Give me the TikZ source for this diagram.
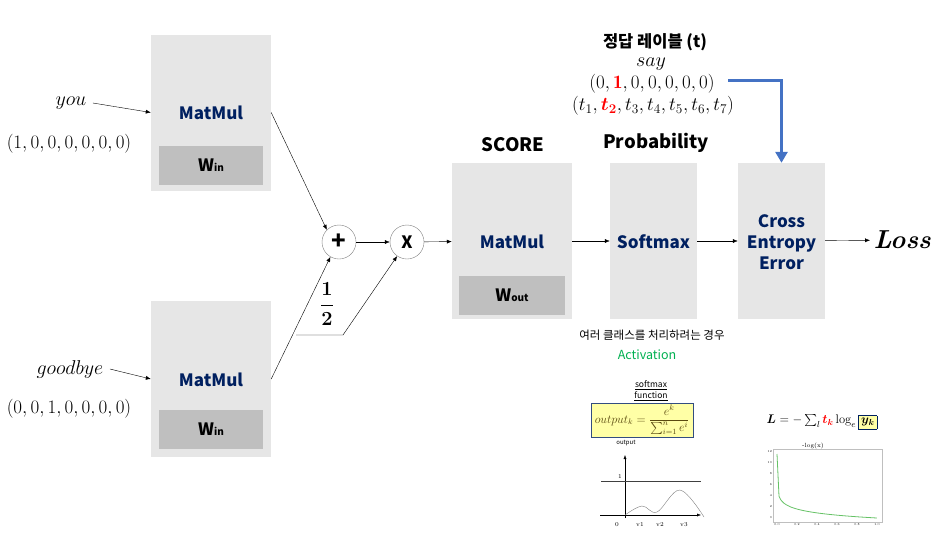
\RequirePackage{fix-cm}
\documentclass[tikz,border=0pt]{standalone}
\usepackage{fontspec}
\usepackage{amsmath,bm}
\usetikzlibrary{arrows.meta,positioning}
\newfontfamily\kr{Noto Sans CJK KR}
\definecolor{navy}{HTML}{002060}
\definecolor{boxgray}{HTML}{E6E6E6}
\definecolor{wgray}{HTML}{BFBFBF}
\definecolor{lblue}{HTML}{4472C4}
\definecolor{actgreen}{HTML}{00B050}
\definecolor{pale}{HTML}{FFFFA6}
\definecolor{formbrown}{HTML}{5A4A10}

\begin{document}
\begin{tikzpicture}[x=1pt,y=-1pt,
 block/.style={fill=boxgray,minimum width=120pt,
     minimum height=156pt,inner sep=0pt},
 wbox/.style={fill=wgray,minimum width=104pt,minimum height=39pt,
     font=\kr\bfseries\fontsize{17}{17}\selectfont},
 op/.style={text=navy,align=center,
     font=\kr\bfseries\fontsize{17}{21}\selectfont},
 head/.style={font=\kr\bfseries\fontsize{18.5}{20}\selectfont},
 vec/.style={font=\fontsize{19}{21}\selectfont},
 word/.style={font=\fontsize{20}{22}\selectfont},
 tiny/.style={font=\fontsize{6}{6}\selectfont,inner sep=1pt},
 arr/.style={-{Latex[length=5pt,width=4pt]}},
 bluearr/.style={draw=lblue,line width=3pt,
     -{Triangle[length=11pt,width=12pt]}},
 circ/.style={draw=gray,circle,minimum size=34pt,inner sep=0pt,
     font=\kr\bfseries\fontsize{17}{17}\selectfont}]
 \useasboundingbox (0,0) rectangle (939,536);
 % blocks
 \node[block] (mm1) at (211,112.5) {};
 \node[op] (mm1t) at (211,113) {MatMul};
 \node[wbox] (win1) at (211,165.5) {W{\fontsize{10}{10}\selectfont in}};
 \node[block] (mm2) at (211,379) {};
 \node[op] (mm2t) at (211,380) {MatMul};
 \node[wbox] (win2) at (211,429.5) {W{\fontsize{10}{10}\selectfont in}};
 \node[block] (score) at (512,241) {};
 \node[op] (scoret) at (512,242) {MatMul};
 \node[wbox,minimum width=106pt] (wout) at (512,295.5)
    {W{\fontsize{10}{10}\selectfont out}};
 \node[block,minimum width=87pt] (soft) at (653.5,241) {};
 \node[op] (softt) at (653.5,242) {Softmax};
 \node[block,minimum width=87pt] (ce) at (781.5,241) {};
 \node[op] (cet) at (781.5,242) {Cross\\Entropy\\Error};
 \node[head] (scoreh) at (513,145) {SCORE};
 \node[head] (probh) at (656,143) {Probability};
 \node[font=\fontsize{26}{26}\selectfont\bfseries\itshape,
     anchor=west] (loss) at (870,240) {Loss};
 % operators
 \node[circ,font=\kr\bfseries\fontsize{24}{24}\selectfont]
    (plus) at (339,242) {+};
 \node[circ] (times) at (407,242) {X};
 \node[font=\fontsize{20}{20}\selectfont] (half) at (327,304)
    {$\boldsymbol{\dfrac{1}{2}}$};
 \coordinate (h0) at (296,335);
 \coordinate (h1) at (343,335);
 % inputs
 \node[word] (you) at (71,103) {$you$};
 \node[vec] (youv) at (69,144) {$(1,0,0,0,0,0,0)$};
 \node[word] (bye) at (70,369) {$goodbye$};
 \node[vec] (byev) at (69,409) {$(0,0,1,0,0,0,0)$};
 % connectors
 \draw[arr] ([xshift=3pt]you.east) -- (mm1.west);
 \draw[arr] ([xshift=3pt]bye.east) -- (mm2.west);
 \draw[arr] (mm1.east) -- (plus.135);
 \draw[arr] (mm2.east) -- (plus.240);
 \draw[arr] (h0) -- (h1) -- (times.235);
 \draw[arr] (plus) -- (times);
 \draw[arr] (times) -- (score);
 \draw[arr] (score) -- (soft);
 \draw[arr] (soft) -- (ce);
 \draw[arr] (ce) -- (loss);
 % label t
 \node[font=\kr\bfseries\fontsize{16.5}{18}\selectfont,inner sep=0pt]
    (lbl) at (655,42) {정답 레이블 (t)};
 \node[word,inner sep=0pt] (say) at (651,64) {$say$};
 \node[vec] (sayv) at (652,84)
    {$(0,\textcolor{red}{\mathbf{1}},0,0,0,0,0)$};
 \node[vec] (tv) at (653,106)
    {$(t_1,\textcolor{red}{\bm{t_2}},t_3,t_4,t_5,t_6,t_7)$};
 \coordinate (bs) at (728,80);
 \draw[bluearr] (bs) -| (ce.north);
 % softmax notes
 \node[font=\kr\fontsize{11.5}{13}\selectfont] (note) at (652,335)
    {여러 클래스를 처리하려는 경우};
 \node[font=\kr\fontsize{12.5}{14}\selectfont,text=actgreen]
    (act) at (647,355) {Activation};
 \node[font=\kr\fontsize{8.5}{11}\selectfont,align=center]
    (sfn) at (651,391) {\underline{softmax}\\\underline{function}};
 \node[fill=pale,draw=navy!80,minimum width=102pt,minimum height=34pt,
     inner sep=1pt,text=formbrown,font=\fontsize{12}{14}\selectfont]
    (sform) at (642,420)
    {$output_k=\dfrac{e^k}{\sum_{i=1}^n e^i}$};
 \node[font=\kr\fontsize{6}{6}\selectfont] (outl) at (626,443) {output};
 \draw[-{Latex[length=4pt]}] (625,518) -- (625,455);
 \draw[-{Latex[length=4pt]}] (600,515) -- (701,515);
 \draw[darkgray] (601,481) -- (701,481);
 \draw[gray] plot[smooth,tension=0.6] coordinates
    {(625,515) (642,506) (657,512) (680,490) (704,517)};
 \node[tiny] at (620,476) {1};
 \node[tiny] at (617,525) {0};
 \node[tiny] at (640,525) {v1};
 \node[tiny] at (660,525) {v2};
 \node[tiny] at (684,525) {v3};
 % loss notes
 \node[font=\fontsize{12.5}{15}\selectfont] (lform) at (822,422)
    {$\boldsymbol{L}=-\sum_l\textcolor{red}{\bm{t_k}}\log_e
     \setlength{\fboxsep}{2.5pt}\fcolorbox{navy}{pale}{$\bm{y_k}$}$};
 \draw[lightgray] (773,449) rectangle (882,522);
 \node[font=\fontsize{6}{6}\selectfont] (logt) at (813,446) {-log(x)};
 \foreach \v in {0,2,...,12}
   \node[font=\fontsize{3}{3}\selectfont,anchor=east,inner sep=1pt]
     at (773,{518-5.58*\v}) {\v};
 \foreach \v/\t in {0/0.0,0.2/0.2,0.4/0.4,0.6/0.6,0.8/0.8,1/1.0}
   \node[font=\fontsize{3}{3}\selectfont,inner sep=1pt]
     at ({777+100*\v},525) {\t};
 \draw[green!60!black!60,thick] (777,454) --
    plot[domain=0.02:1,samples=60] ({777+100*\x},{518+5.58*ln(\x)});
\end{tikzpicture}
\end{document}
